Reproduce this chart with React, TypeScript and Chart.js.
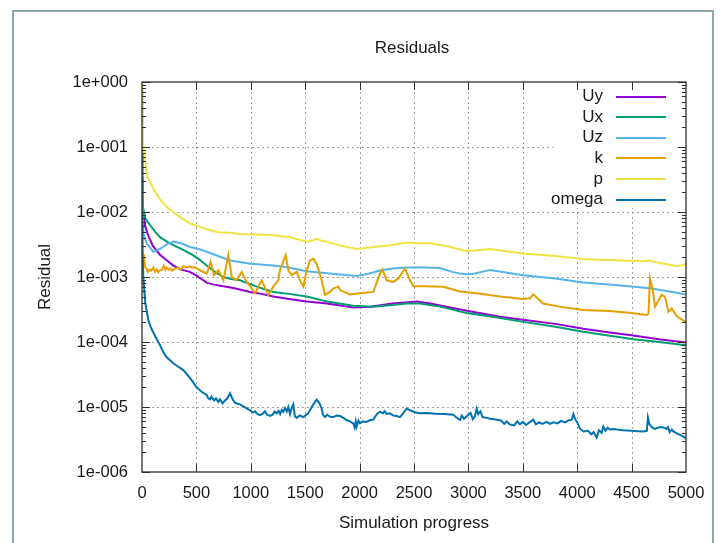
import React, { useEffect, useRef } from "react";
import { Chart, registerables } from "chart.js";

Chart.register(...registerables);

// ---------- data ----------
const chartTitle = "Residuals";
const xAxisTitle = "Simulation progress";
const yAxisTitle = "Residual";

const xTicks = [0, 500, 1000, 1500, 2000, 2500, 3000, 3500, 4000, 4500, 5000];
const yTickValues = [1, 1e-1, 1e-2, 1e-3, 1e-4, 1e-5, 1e-6];
const yTickLabels = ["1e+000", "1e-001", "1e-002", "1e-003", "1e-004", "1e-005", "1e-006"];

const seriesNames = ["Uy", "Ux", "Uz", "k", "p", "omega"];
const seriesColors = ["#9400d3", "#009e73", "#56b4e9", "#e69f00", "#f0e442", "#0072b2"];

const uyIter = [
  0, 5, 12, 30, 60, 100, 165, 230, 288, 360,
  441, 500, 560, 595, 650, 748, 850, 993, 1100, 1207,
  1350, 1514, 1700, 1942, 2100, 2300, 2450, 2525, 2650, 2831,
  3000, 3290, 3500, 3800, 4056, 4300, 4516, 4750, 5000,
];
const uyVals = [
  0.035, 0.016, 0.0095, 0.006, 0.0042, 0.003, 0.0022, 0.0018, 0.0015, 0.0013,
  0.0012, 0.00105, 0.0009, 0.00082, 0.00077, 0.00072, 0.00067, 0.00059, 0.00055, 0.0005,
  0.00046, 0.00042, 0.00039, 0.00034, 0.00035, 0.00039, 0.00041, 0.00042, 0.00039, 0.00034,
  0.0003, 0.000245, 0.00022, 0.00019, 0.00016, 0.00014, 0.000126, 0.00011, 0.000098,
];

const uxIter = [
  0, 5, 12, 30, 74, 120, 165, 230, 288, 360,
  441, 520, 595, 670, 748, 820, 901, 1054, 1207, 1350,
  1514, 1700, 1942, 2126, 2300, 2433, 2555, 2739, 2984, 3250,
  3505, 3800, 4056, 4300, 4516, 4750, 5000,
];
const uxVals = [
  0.015, 0.013, 0.011, 0.008, 0.0063, 0.005, 0.0041, 0.0035, 0.0031, 0.0027,
  0.0023, 0.0019, 0.0015, 0.0012, 0.001, 0.00093, 0.00089, 0.00071, 0.00059, 0.00055,
  0.0005, 0.00042, 0.00036, 0.00035, 0.00037, 0.00039, 0.00039, 0.00035, 0.00028, 0.00024,
  0.000204, 0.000172, 0.000144, 0.000125, 0.00011, 0.0001, 0.000089,
];

const uzIter = [
  0, 5, 15, 43, 104, 165, 230, 288, 360, 441,
  520, 595, 700, 809, 1000, 1207, 1350, 1514, 1750, 1973,
  2080, 2188, 2300, 2433, 2600, 2739, 2850, 2920, 2984, 3050,
  3120, 3200, 3300, 3505, 3800, 4056, 4350, 4669, 4850, 5000,
];
const uzVals = [
  0.02, 0.008, 0.0045, 0.0033, 0.00245, 0.0027, 0.0032, 0.0035, 0.0033, 0.0029,
  0.0027, 0.00245, 0.0021, 0.0018, 0.0016, 0.0015, 0.0014, 0.00123, 0.00112, 0.00104,
  0.00112, 0.00126, 0.00135, 0.0014, 0.0014, 0.00137, 0.0012, 0.00113, 0.0011, 0.00112,
  0.0012, 0.00128, 0.0012, 0.00106, 0.00095, 0.00082, 0.00075, 0.00067, 0.0006, 0.00054,
];

const kIter = [
  0, 4, 10, 20, 30, 43, 55, 70, 85, 104,
  120, 135, 150, 165, 185, 200, 215, 227, 245, 260,
  275, 288, 310, 330, 355, 380, 410, 441, 465, 490,
  533, 595, 631, 662, 702, 748, 794, 825, 870, 916,
  962, 1000, 1039, 1100, 1161, 1207, 1253, 1268, 1321, 1345,
  1376, 1422, 1452, 1483, 1514, 1544, 1575, 1605, 1651, 1682,
  1728, 1759, 1805, 1820, 1912, 2000, 2126, 2188, 2210, 2249,
  2310, 2356, 2417, 2463, 2494, 2600, 2769, 2923, 3076, 3290,
  3500, 3566, 3597, 3686, 3839, 4056, 4301, 4500, 4639, 4655,
  4669, 4694, 4715, 4776, 4807, 4838, 4868, 4914, 5000,
];
const kVals = [
  0.8, 0.002, 0.0016, 0.0019, 0.0014, 0.00135, 0.0012, 0.0013, 0.00125, 0.0014,
  0.0012, 0.0013, 0.00118, 0.00127, 0.0013, 0.0015, 0.0013, 0.0014, 0.0013, 0.00135,
  0.00125, 0.0013, 0.00135, 0.0014, 0.0013, 0.00147, 0.0014, 0.00145, 0.0014, 0.0014,
  0.00127, 0.00113, 0.0017, 0.00107, 0.00127, 0.00089, 0.00217, 0.001, 0.00089, 0.00119,
  0.00084, 0.0007, 0.00056, 0.00089, 0.00053, 0.00071, 0.00089, 0.00127, 0.00217, 0.00127,
  0.00107, 0.0012, 0.00089, 0.00071, 0.00127, 0.0018, 0.0019, 0.0016, 0.00089, 0.00053,
  0.00059, 0.00067, 0.00071, 0.00063, 0.00054, 0.00056, 0.00059, 0.00113, 0.0013, 0.00089,
  0.00084, 0.00095, 0.00135, 0.00089, 0.00072, 0.00072, 0.00071, 0.0006, 0.00056, 0.0005,
  0.00046, 0.00047, 0.00054, 0.00039, 0.00035, 0.00031, 0.0003, 0.00028, 0.00026, 0.00027,
  0.00095, 0.00063, 0.00035, 0.00053, 0.0005, 0.00029, 0.00033, 0.00025, 0.0002,
];

const pIter = [
  0, 3, 6, 12, 28, 50, 104, 160, 227, 300,
  380, 450, 533, 620, 700, 809, 900, 1050, 1206, 1360,
  1514, 1560, 1605, 1650, 1697, 1800, 1973, 2126, 2300, 2433,
  2550, 2647, 2800, 2984, 3199, 3350, 3502, 3800, 4053, 4400,
  4600, 4669, 4700, 4800, 4914, 4960, 5000,
];
const pVals = [
  1.0, 0.4, 0.2, 0.1, 0.06, 0.035, 0.023, 0.016, 0.012, 0.0095,
  0.0077, 0.0066, 0.0059, 0.0053, 0.0049, 0.0048, 0.0046, 0.0045, 0.0044, 0.0041,
  0.0035, 0.0036, 0.0039, 0.0036, 0.0035, 0.0031, 0.0027, 0.0029, 0.0031, 0.0034,
  0.0033, 0.0033, 0.003, 0.0025, 0.0027, 0.0025, 0.0023, 0.0021, 0.0019, 0.0018,
  0.00175, 0.0018, 0.00172, 0.0016, 0.00148, 0.0015, 0.0016,
];

const omegaIter = [
  0, 4, 12, 30, 58, 80, 104, 135, 165, 200,
  227, 260, 288, 330, 380, 441, 502, 550, 595, 610,
  625, 640, 662, 680, 702, 717, 742, 763, 784, 809,
  833, 855, 900, 950, 993, 1020, 1040, 1060, 1085, 1110,
  1130, 1150, 1176, 1200, 1220, 1238, 1255, 1270, 1285, 1299,
  1315, 1330, 1345, 1360, 1375, 1391, 1405, 1422, 1450, 1483,
  1520, 1544, 1575, 1605, 1630, 1651, 1665, 1682, 1700, 1730,
  1759, 1790, 1820, 1850, 1880, 1910, 1942, 1955, 1965, 1973,
  1990, 2004, 2030, 2060, 2100, 2126, 2160, 2188, 2215, 2230,
  2249, 2280, 2310, 2340, 2371, 2400, 2433, 2463, 2510, 2555,
  2620, 2700, 2780, 2861, 2890, 2923, 2940, 2960, 2999, 3020,
  3040, 3060, 3076, 3090, 3110, 3130, 3168, 3200, 3250, 3300,
  3330, 3352, 3380, 3420, 3450, 3474, 3500, 3530, 3560, 3597,
  3620, 3650, 3680, 3720, 3750, 3781, 3820, 3850, 3890, 3920,
  3950, 3965, 3980, 4000, 4026, 4060, 4100, 4130, 4150, 4179,
  4200, 4225, 4240, 4260, 4280, 4300, 4330, 4363, 4420, 4500,
  4560, 4608, 4640, 4650, 4665, 4690, 4715, 4740, 4770, 4800,
  4822, 4835, 4850, 4870, 4884, 4920, 4950, 4975, 5000,
];
const omegaVals = [
  0.08, 0.003, 0.001, 0.0004, 0.00022, 0.00017, 0.00014, 0.00011, 0.00009, 0.000068,
  0.000058, 0.000052, 0.000047, 0.000042, 0.000037, 0.000028, 0.00002, 0.000017, 1.53e-5, 1.36e-5,
  1.31e-5, 1.44e-5, 1.26e-5, 1.36e-5, 1.2e-5, 1.31e-5, 1.14e-5, 1.26e-5, 1.36e-5, 1.62e-5,
  1.31e-5, 1.16e-5, 1.1e-5, 9.8e-6, 8.9e-6, 8.2e-6, 8.6e-6, 7.8e-6, 7.5e-6, 7.9e-6,
  8.6e-6, 7.6e-6, 7.3e-6, 7.6e-6, 8.5e-6, 8.0e-6, 8.7e-6, 7.8e-6, 9.0e-6, 8.4e-6,
  9.6e-6, 8.5e-6, 1.0e-5, 7.8e-6, 9.5e-6, 1.1e-5, 7.2e-6, 6.8e-6, 7.4e-6, 7.0e-6,
  7.8e-6, 8.9e-6, 1.1e-5, 1.3e-5, 1.15e-5, 9.5e-6, 7.5e-6, 7.0e-6, 7.6e-6, 7.1e-6,
  7.0e-6, 7.4e-6, 7.3e-6, 6.8e-6, 6.3e-6, 6.0e-6, 5.6e-6, 4.8e-6, 6.0e-6, 5.0e-6,
  6.2e-6, 5.6e-6, 6.0e-6, 5.9e-6, 6.3e-6, 6.4e-6, 7.8e-6, 8.5e-6, 8.0e-6, 8.6e-6,
  7.8e-6, 8.0e-6, 7.4e-6, 7.3e-6, 7.0e-6, 8.0e-6, 9.5e-6, 8.9e-6, 8.3e-6, 8.0e-6,
  8.1e-6, 7.9e-6, 7.8e-6, 7.6e-6, 6.9e-6, 6.3e-6, 7.4e-6, 6.6e-6, 7.6e-6, 8.1e-6,
  6.5e-6, 7.2e-6, 9.4e-6, 7.8e-6, 8.6e-6, 7.0e-6, 6.8e-6, 6.6e-6, 6.4e-6, 6.2e-6,
  5.5e-6, 6.0e-6, 5.4e-6, 5.2e-6, 6.0e-6, 5.4e-6, 5.9e-6, 5.3e-6, 5.8e-6, 6.4e-6,
  5.4e-6, 5.8e-6, 5.5e-6, 5.9e-6, 5.5e-6, 5.8e-6, 5.6e-6, 6.1e-6, 5.8e-6, 6.2e-6,
  6.4e-6, 7.8e-6, 6.6e-6, 5.8e-6, 4.6e-6, 4.2e-6, 4.3e-6, 3.8e-6, 4.1e-6, 3.4e-6,
  4.4e-6, 4.0e-6, 5.0e-6, 4.3e-6, 4.8e-6, 4.5e-6, 4.6e-6, 4.5e-6, 4.4e-6, 4.3e-6,
  4.25e-6, 4.2e-6, 4.3e-6, 6.9e-6, 5.4e-6, 4.8e-6, 4.6e-6, 4.8e-6, 4.9e-6, 4.8e-6,
  4.6e-6, 4.9e-6, 4.1e-6, 4.5e-6, 4.2e-6, 3.9e-6, 3.7e-6, 3.5e-6, 3.3e-6,
];

const seriesIters = [uyIter, uxIter, uzIter, kIter, pIter, omegaIter];
const seriesVals = [uyVals, uxVals, uzVals, kVals, pVals, omegaVals];

// ---------- styling ----------
const FONT = "'Liberation Sans', Arial, Helvetica, sans-serif";
const TEXT = "#1a1a1a";

const decorPlugin = {
  id: "gnuDecor",
  beforeDraw(chart: any) {
    const { ctx, chartArea: a } = chart;
    ctx.save();
    ctx.fillStyle = "#ffffff";
    ctx.fillRect(0, 0, chart.width, chart.height);
    ctx.strokeStyle = "#90a4ae";
    ctx.lineWidth = 2;
    ctx.beginPath();
    ctx.moveTo(13, chart.height + 4);
    ctx.lineTo(13, 11);
    ctx.lineTo(713, 11);
    ctx.lineTo(713, chart.height + 4);
    ctx.stroke();
    ctx.fillStyle = TEXT;
    ctx.font = `17px ${FONT}`;
    ctx.textAlign = "center";
    ctx.textBaseline = "middle";
    ctx.fillText(chartTitle, (a.left + a.right) / 2 - 2, 48);
    ctx.restore();
  },
  beforeDatasetsDraw(chart: any) {
    const { ctx, chartArea: a, scales } = chart;
    ctx.save();
    ctx.strokeStyle = "#a0a0a0";
    ctx.lineWidth = 1;
    ctx.setLineDash([2, 3]);
    ctx.beginPath();
    xTicks.slice(1, -1).forEach((v) => {
      const px = Math.round(scales.x.getPixelForValue(v)) + 0.5;
      ctx.moveTo(px, a.top);
      ctx.lineTo(px, a.bottom);
    });
    yTickValues.slice(1, -1).forEach((v) => {
      const py = Math.round(scales.y.getPixelForValue(v)) + 0.5;
      ctx.moveTo(a.left, py);
      ctx.lineTo(a.right, py);
    });
    ctx.stroke();
    ctx.restore();
  },
  afterDatasetsDraw(chart: any) {
    const { ctx, chartArea: a, scales } = chart;
    ctx.save();
    ctx.fillStyle = "#ffffff";
    ctx.fillRect(553, a.top + 1, a.right - 553 - 1, 207 - a.top);
    ctx.font = `17px ${FONT}`;
    ctx.textAlign = "right";
    ctx.textBaseline = "middle";
    seriesNames.forEach((name, i) => {
      const y = 96.5 + i * 20.6;
      ctx.fillStyle = TEXT;
      ctx.fillText(name, 603, y);
      ctx.strokeStyle = seriesColors[i];
      ctx.lineWidth = 2;
      ctx.beginPath();
      ctx.moveTo(616, Math.round(y));
      ctx.lineTo(666, Math.round(y));
      ctx.stroke();
    });
    ctx.strokeStyle = "#303030";
    ctx.lineWidth = 1.3;
    ctx.strokeRect(a.left, a.top, a.right - a.left, a.bottom - a.top);
    ctx.lineWidth = 1;
    ctx.beginPath();
    xTicks.slice(1, -1).forEach((v) => {
      const px = Math.round(scales.x.getPixelForValue(v)) + 0.5;
      ctx.moveTo(px, a.bottom);
      ctx.lineTo(px, a.bottom - 8);
      ctx.moveTo(px, a.top);
      ctx.lineTo(px, a.top + 8);
    });
    yTickValues.forEach((v, d) => {
      const py = Math.round(scales.y.getPixelForValue(v)) + 0.5;
      ctx.moveTo(a.left, py);
      ctx.lineTo(a.left + 8, py);
      ctx.moveTo(a.right, py);
      ctx.lineTo(a.right - 8, py);
      if (d < yTickValues.length - 1) {
        for (let m = 2; m <= 9; m++) {
          const mv = m * yTickValues[d + 1];
          const pm = Math.round(scales.y.getPixelForValue(mv)) + 0.5;
          ctx.moveTo(a.left, pm);
          ctx.lineTo(a.left + 4, pm);
          ctx.moveTo(a.right, pm);
          ctx.lineTo(a.right - 4, pm);
        }
      }
    });
    ctx.stroke();
    ctx.restore();
  },
};

export default function App() {
  const ref = useRef<HTMLCanvasElement>(null);

  useEffect(() => {
    const canvas = ref.current;
    if (!canvas) return;
    const datasets = seriesNames.map((name, i) => ({
      label: name,
      data: seriesIters[i].map((x, j) => ({ x, y: seriesVals[i][j] })),
      borderColor: seriesColors[i],
      backgroundColor: seriesColors[i],
      borderWidth: 2,
      pointRadius: 0,
      tension: 0,
      fill: false,
      order: seriesNames.length - 1 - i,
    }));

    const chart = new Chart(canvas, {
      type: "line",
      data: { datasets },
      options: {
        responsive: false,
        animation: false,
        devicePixelRatio: 1,
        layout: { padding: { left: 0, right: 35, top: 82, bottom: 0 } },
        plugins: {
          legend: { display: false },
          title: { display: false },
          tooltip: { enabled: false },
        },
        scales: {
          x: {
            type: "linear",
            min: 0,
            max: 5000,
            afterBuildTicks: (s: any) => {
              s.ticks = xTicks.map((v) => ({ value: v }));
            },
            afterFit: (s: any) => {
              s.height = 71;
            },
            ticks: {
              autoSkip: false,
              maxRotation: 0,
              padding: 12,
              color: TEXT,
              font: { family: FONT, size: 16.5 },
              callback: (v: any) => String(v),
            },
            grid: { display: false, drawTicks: false },
            border: { display: false },
            title: {
              display: true,
              text: xAxisTitle,
              color: TEXT,
              font: { family: FONT, size: 17 },
              padding: { top: 0, bottom: 9 },
            },
          },
          y: {
            type: "logarithmic",
            min: 1e-6,
            max: 1,
            afterBuildTicks: (s: any) => {
              s.ticks = yTickValues.map((v) => ({ value: v }));
            },
            afterFit: (s: any) => {
              s.width = 142;
            },
            ticks: {
              autoSkip: false,
              padding: 14,
              color: TEXT,
              font: { family: FONT, size: 16.5 },
              callback: (v: any) => yTickLabels[Math.round(-Math.log10(Number(v)))],
            },
            grid: { display: false, drawTicks: false },
            border: { display: false },
            title: {
              display: true,
              text: yAxisTitle,
              color: TEXT,
              font: { family: FONT, size: 17 },
              padding: { top: 35, bottom: 0 },
            },
          },
        },
      },
      plugins: [decorPlugin],
    } as any);

    return () => chart.destroy();
  }, []);

  return (
    <div style={{ position: "absolute", left: 0, top: 0, width: 721, height: 543, background: "#fff" }}>
      <canvas ref={ref} width={721} height={543} style={{ display: "block", width: 721, height: 543 }} />
    </div>
  );
}
